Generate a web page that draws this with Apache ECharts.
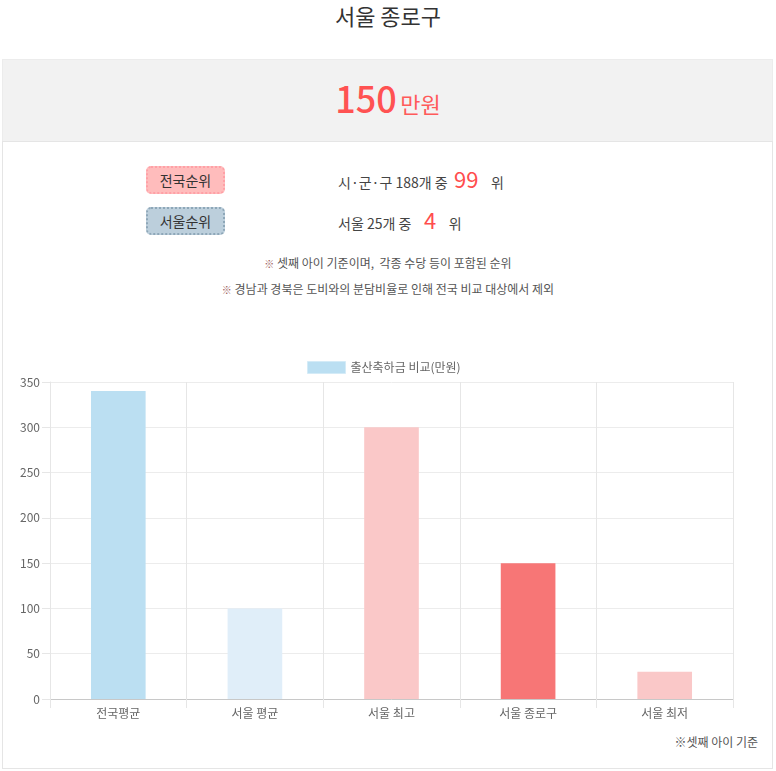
<!DOCTYPE html>
<html>
<head>
<meta charset="utf-8">
<script src="https://cdn.jsdelivr.net/npm/echarts@6/dist/echarts.min.js"></script>
<style>
  html,body{margin:0;padding:0;background:#fff;}
  body{width:776px;height:771px;position:relative;overflow:hidden;font-family:"Noto Sans CJK KR","Noto Sans",sans-serif;}
  .abs{position:absolute;}
  #title{left:0;width:776px;top:0px;text-align:center;font-size:22px;color:#333;line-height:30px;}
  #graybox{left:2px;top:59px;width:769px;height:82px;background:#f2f2f2;border:1px solid #ececec;border-bottom:none;}
  #amount{left:0;width:776px;top:74px;text-align:center;color:#ff5252;line-height:46px;white-space:nowrap;}
  #amount .num{font-size:36px;font-weight:500;}
  #amount .unit{font-size:22px;color:#ff5a5a;margin-left:0px;}
  #whitebox{left:2px;top:141px;width:769px;height:626px;border:1px solid #e5e5e5;background:#fff;}
  .badge{width:75px;height:24px;border-radius:5px;font-size:14px;color:#333;text-align:center;line-height:24px;}
  #b1{left:146px;top:166px;background:#ffbcbc;border:2px dotted #ffa0a6;}
  #b2{left:146px;top:207px;background:#bccfdc;border:2px dotted #8ea7b8;}
  .rank{font-size:14px;color:#444;white-space:nowrap;line-height:24px;}
  .rank .n{font-size:22px;color:#ff4d4d;}
  .note{left:0;width:776px;text-align:center;font-size:12px;color:#555;line-height:16px;}
  .note .m{color:#9a5a5a;font-size:10px;}
  #footer{right:18px;top:733px;font-size:12px;color:#555;line-height:18px;}
  #chart{left:0;top:0;width:776px;height:771px;}
</style>
</head>
<body>
<div class="abs" id="title">서울 종로구</div>
<div class="abs" id="graybox"></div>
<div class="abs" id="amount"><span class="num">150</span> <span class="unit">만원</span></div>
<div class="abs" id="whitebox"></div>
<div class="abs badge" id="b1">전국순위</div>
<div class="abs badge" id="b2">서울순위</div>
<div class="abs rank" style="left:338px;top:166px;">시·군·구 188개 중 &nbsp;<span class="n">99</span> &nbsp;&nbsp;&nbsp;위</div>
<div class="abs rank" style="left:338px;top:207px;">서울 25개 중 &nbsp;&nbsp;&nbsp;<span class="n">4</span> &nbsp;&nbsp;&nbsp;위</div>
<div class="abs note" style="top:255px;"><span class="m">※</span> 셋째 아이 기준이며,&nbsp; 각종 수당 등이 포함된 순위</div>
<div class="abs note" style="top:281px;"><span class="m">※</span> 경남과 경북은 도비와의 분담비율로 인해 전국 비교 대상에서 제외</div>
<div class="abs" id="footer">※셋째 아이 기준</div>
<div class="abs" id="chart"></div>
<script>
const categories = ['전국평균', '서울 평균', '서울 최고', '서울 종로구', '서울 최저'];
const values = [340, 100, 300, 150, 30];
const barColors = ['#bbdff2', '#e0eef9', '#fac8c8', '#f77676', '#fac8c8'];
const seriesName = '출산축하금 비교(만원)';
const yMin = 0, yMax = 350, yStep = 50;

const chart = echarts.init(document.getElementById('chart'), null, {renderer: 'canvas'});
chart.setOption({
  backgroundColor: 'transparent',
  animation: false,
  textStyle: {fontFamily: '"Noto Sans CJK KR","Noto Sans",sans-serif'},
  legend: {
    top: 361, left: 307, padding: 0,
    itemWidth: 38, itemHeight: 12, icon: 'rect', itemGap: 10,
    textStyle: {color: '#666', fontSize: 12},
    data: [{name: seriesName, itemStyle: {color: barColors[0], borderColor: '#d4ebf7', borderWidth: 1}}]
  },
  grid: {left: 50, right: 43, top: 382, bottom: 72, containLabel: false},
  xAxis: {
    type: 'category', data: categories, boundaryGap: true,
    axisLine: {show: true, lineStyle: {color: '#c8c8c8', width: 1}},
    axisTick: {show: true, length: 9, lineStyle: {color: '#e6e6e6'}},
    splitLine: {show: true, lineStyle: {color: '#e6e6e6'}},
    axisLabel: {color: '#666', fontSize: 12, margin: 8}
  },
  yAxis: {
    type: 'value', min: yMin, max: yMax, interval: yStep,
    axisLine: {show: true, lineStyle: {color: '#e6e6e6'}},
    axisTick: {show: true, length: 8, lineStyle: {color: '#e6e6e6'}},
    splitLine: {show: true, lineStyle: {color: '#ececec'}},
    axisLabel: {color: '#666', fontSize: 12, margin: 10}
  },
  series: [{
    name: seriesName, type: 'bar', barWidth: '40%',
    itemStyle: {color: barColors[0]},
    data: values.map((v, i) => ({value: v, itemStyle: {color: barColors[i]}}))
  }]
});
</script>
</body>
</html>
